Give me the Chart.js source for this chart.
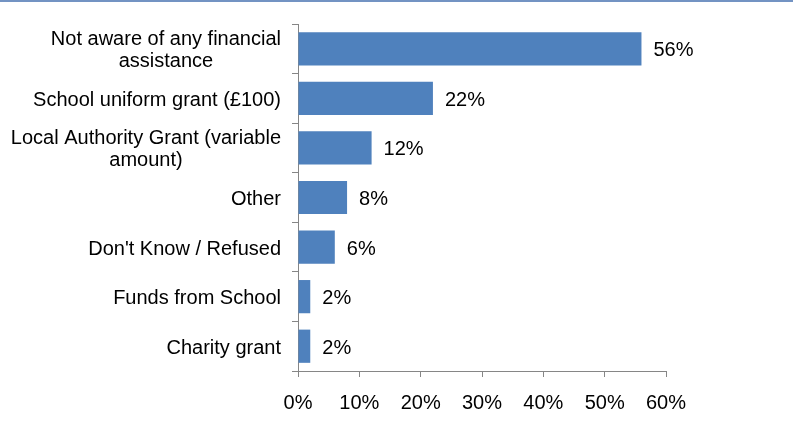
<!DOCTYPE html>
<html>
<head>
<meta charset="utf-8">
<script src="https://cdn.jsdelivr.net/npm/chart.js@4.4.1/dist/chart.umd.min.js"></script>
<style>
  html, body { margin: 0; padding: 0; background: #fff; }
  #wrap { position: relative; width: 793px; height: 448px; }
  #topline { position: absolute; left: 0; top: 0; width: 793px; height: 2px; background: #7393c3; }
</style>
</head>
<body>
<div id="wrap">
  <canvas id="chart" width="793" height="448"></canvas>
  <div id="topline"></div>
</div>
<script>
// categories (multi-line labels as arrays)
const categories = [
    ['Not aware of any financial', 'assistance'],
    ['School uniform grant (£100)'],
    ['Local Authority Grant (variable', 'amount)'],
    ['Other'],
    ["Don't Know / Refused"],
    ['Funds from School'],
    ['Charity grant']
];
const values = [56, 22, 12, 8, 6, 2, 2];
const xTicks = [0, 10, 20, 30, 40, 50, 60];

const FONT = '"Liberation Sans", Arial, sans-serif';

// nhãn giá trị bên phải mỗi thanh
const valueLabels = {
    id: 'valueLabels',
    afterDatasetsDraw(chart) {
        const ctx = chart.ctx;
        const meta = chart.getDatasetMeta(0);
        ctx.save();
        ctx.font = '20px ' + FONT;
        ctx.fillStyle = '#000';
        ctx.textAlign = 'left';
        ctx.textBaseline = 'middle';
        meta.data.forEach((bar, i) => {
            ctx.fillText(values[i] + '%', bar.x + 12, bar.y + 2);
        });
        ctx.restore();
    }
};

// nhãn trục y, các dòng căn giữa trong khối, khối căn phải
const yLabels = {
    id: 'yLabels',
    afterDraw(chart) {
        const ctx = chart.ctx;
        const y = chart.scales.y;
        const right = 281;
        const lineH = 22;
        ctx.save();
        ctx.font = '20px ' + FONT;
        ctx.fillStyle = '#000';
        ctx.textAlign = 'center';
        ctx.textBaseline = 'middle';
        categories.forEach((lines, i) => {
            const cy = y.getPixelForValue(i);
            const w = Math.max(...lines.map(l => ctx.measureText(l).width));
            const cx = right - w / 2;
            const start = cy - (lines.length - 1) * lineH / 2;
            lines.forEach((l, k) => ctx.fillText(l, cx, start + k * lineH + 2));
        });
        ctx.restore();
    }
};

new Chart(document.getElementById('chart').getContext('2d'), {
    type: 'bar',
    data: {
        labels: categories,
        datasets: [{
            data: values,
            backgroundColor: '#4f81bd',
            borderWidth: 0,
            barPercentage: 0.67,
            categoryPercentage: 1
        }]
    },
    options: {
        indexAxis: 'y',
        responsive: false,
        animation: false,
        layout: { padding: { top: 24, right: 127, left: 0, bottom: 0 } },
        plugins: {
            legend: { display: false },
            tooltip: { enabled: false }
        },
        scales: {
            x: {
                min: 0,
                max: 60,
                afterBuildTicks: s => { s.ticks = xTicks.map(v => ({ value: v })); },
                afterFit: s => { s.height = 77; },
                grid: { drawOnChartArea: false, drawTicks: true, tickLength: 6, color: '#868686' },
                border: { color: '#868686', width: 1 },
                ticks: {
                    padding: 14,
                    color: '#000',
                    font: { family: FONT, size: 20 },
                    callback: v => v + '%'
                }
            },
            y: {
                afterFit: s => { s.width = 298; },
                grid: { offset: true, drawOnChartArea: false, drawTicks: true, tickLength: 6, color: '#868686' },
                border: { color: '#868686', width: 1 },
                ticks: { display: false }
            }
        }
    },
    plugins: [valueLabels, yLabels]
});
</script>
</body>
</html>
